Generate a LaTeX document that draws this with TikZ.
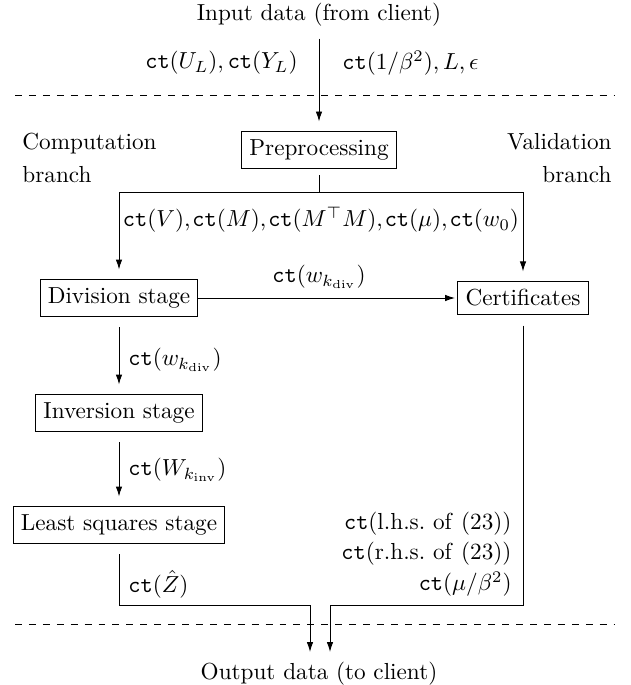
\documentclass[tikz,border=0pt]{standalone}
\usetikzlibrary{arrows.meta}
\begin{document}
\begin{tikzpicture}[x=0.431pt,y=-0.431pt,
  box/.style={draw, line width=0.4pt},
  arr/.style={-{Latex[length=4.3pt,width=2.8pt]}},
  lab/.style={inner sep=0pt},
  sep/.style={dashed}]
\useasboundingbox (0,0) rectangle (631,685);
% input / output
\node (inp) at (319,15) {Input data (from client)};
\node (out) at (319,674) {Output data (to client)};
\node[lab, anchor=east] (lu) at (298,63) {$\mathtt{ct}(U_L), \mathtt{ct}(Y_L)$};
\node[lab, anchor=west] (lb) at (342,63) {$\mathtt{ct}(1/\beta^2), L, \epsilon$};
% separators
\coordinate (s1a) at (15,95); \coordinate (s1b) at (615,95);
\coordinate (s2a) at (15,624); \coordinate (s2b) at (615,624);
\draw[sep] (s1a) -- (s1b);
\draw[sep] (s2a) -- (s2b);
% branch titles
\node[lab, anchor=base west] (c1) at (22,150) {Computation};
\node[lab, anchor=base west] (c2) at (22,183) {branch};
\node[lab, anchor=base east] (v1) at (612,150) {Validation};
\node[lab, anchor=base east] (v2) at (612,183) {branch};
% boxes
\node[box] (pre) at (319,150) {Preprocessing};
\node[box] (div) at (119,298) {Division stage};
\node[box] (cert) at (523,298) {Certificates};
\node[box] (inv) at (119,413) {Inversion stage};
\node[box] (lsq) at (119,525) {Least squares stage};
% connectors
\draw[arr, shorten <=1.6pt, shorten >=4.3pt] (inp) -- (pre);
\coordinate (br) at (319,192);
\draw[shorten <=3pt] (pre) -- (br);
\draw[arr, shorten >=4.3pt] (br) -| (div);
\draw[arr, shorten >=4.3pt] (br) -| (cert);
\node[lab] (lall) at (321,220) {$\mathtt{ct}(V){,}\mkern1.5mu\mathtt{ct}(M){,}\mkern1.5mu\mathtt{ct}(M^\top M){,}\mkern1.5mu\mathtt{ct}(\mu){,}\mkern1.5mu\mathtt{ct}(w_0)$};
\draw[arr, shorten >=1pt] (div) -- (cert);
\node[lab] (lw) at (319,277) {$\mathtt{ct}(w_{k_{\mathrm{div}}})$};
\draw[arr, shorten <=4.7pt, shorten >=4.3pt] (div) -- (inv);
\node[lab, anchor=west] (lw2) at (128,360) {$\mathtt{ct}(w_{k_{\mathrm{div}}})$};
\draw[arr, shorten <=4.7pt, shorten >=4.3pt] (inv) -- (lsq);
\node[lab, anchor=west] (lW) at (128,470) {$\mathtt{ct}(W_{k_{\mathrm{inv}}})$};
\coordinate (j1) at (310,605); \coordinate (e1) at (310,652);
\coordinate (j2) at (330,605); \coordinate (e2) at (330,652);
\draw[arr, shorten <=4.7pt] (lsq) |- (j1) -- (e1);
\draw[arr, shorten <=4.7pt] (cert) |- (j2) -- (e2);
\node[lab, anchor=west] (lz) at (128,584) {$\mathtt{ct}(\hat{Z})$};
\node[lab, anchor=east] (r1) at (512,524) {$\mathtt{ct}(\mathrm{l.h.s.\ of\ (23)})$};
\node[lab, anchor=east] (r2) at (512,554) {$\mathtt{ct}(\mathrm{r.h.s.\ of\ (23)})$};
\node[lab, anchor=east] (r3) at (512,584) {$\mathtt{ct}(\mu/\beta^2)$};
\end{tikzpicture}
\end{document}
